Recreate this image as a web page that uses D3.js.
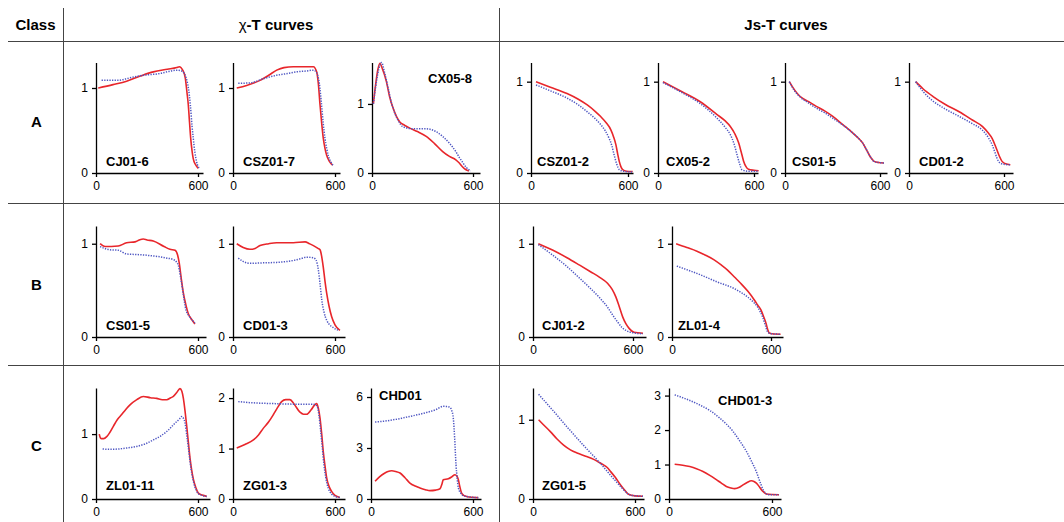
<!DOCTYPE html>
<html>
<head>
<meta charset="utf-8">
<script src="https://cdn.jsdelivr.net/npm/d3@7"></script>
<style>
  body { margin: 0; background: #fff; }
  svg { display: block; font-family: "Liberation Sans", Arial, Helvetica, sans-serif; }
</style>
</head>
<body>
<svg id="chart" width="1064" height="522"></svg>
<script>
// ---- data: [T (°C), normalised value] ----
const classes = ['A', 'B', 'C'];
const columnTitles = ['-T curves', 'Js-T curves'];
const xTicks = [0, 600];

// class A, chi-T
const cj01_6_red = [[13,1.0],[100,1.04],[180,1.08],[260,1.14],[337,1.19],[420,1.22],[475,1.24],[490,1.25],[510,1.21],[525,1.12],[535,0.95],[543,0.8],[550,0.6],[557,0.41],[565,0.26],[572,0.17],[585,0.1],[602,0.055]];
const cj01_6_blue = [[33,1.09],[80,1.09],[131,1.09],[200,1.12],[280,1.15],[376,1.17],[440,1.2],[475,1.21],[504,1.2],[530,1.12],[545,0.98],[555,0.8],[565,0.55],[572,0.41],[582,0.24],[592,0.13],[608,0.055]];
const csz01_7_red = [[22,1.0],[80,1.03],[159,1.09],[210,1.15],[257,1.21],[300,1.24],[355,1.25],[420,1.25],[473,1.25],[492,1.19],[502,1.05],[512,0.8],[522,0.58],[531,0.41],[541,0.29],[551,0.21],[566,0.14],[586,0.094]];
const csz01_7_blue = [[31,1.055],[100,1.06],[180,1.11],[257,1.15],[320,1.17],[374,1.19],[430,1.2],[473,1.21],[492,1.18],[508,1.05],[521,0.8],[531,0.58],[541,0.41],[551,0.29],[561,0.2],[575,0.13],[590,0.09]];
const cx05_8_red = [[8,1.0],[20,1.25],[35,1.5],[47,1.59],[60,1.52],[86,1.32],[105,1.1],[125,0.94],[145,0.82],[165,0.74],[195,0.69],[224,0.65],[270,0.6],[322,0.53],[370,0.43],[420,0.31],[460,0.24],[498,0.19],[520,0.14],[537,0.09],[556,0.05],[576,0.03]];
const cx05_8_blue = [[8,1.0],[20,1.22],[40,1.5],[57,1.6],[75,1.45],[96,1.23],[115,1.02],[135,0.87],[160,0.74],[184,0.67],[243,0.64],[322,0.64],[380,0.6],[420,0.53],[460,0.43],[498,0.31],[520,0.22],[537,0.16],[560,0.08],[586,0.03]];

// class A, Js-T
const csz01_2_red = [[31,1.0],[120,0.94],[223,0.87],[290,0.81],[348,0.745],[400,0.67],[431,0.618],[465,0.55],[494,0.473],[512,0.39],[525,0.31],[536,0.21],[546,0.127],[556,0.07],[567,0.036],[590,0.02],[629,0.017]];
const csz01_2_blue = [[31,0.964],[120,0.9],[223,0.82],[290,0.75],[348,0.67],[400,0.59],[431,0.53],[460,0.46],[483,0.38],[500,0.3],[514,0.2],[530,0.1],[546,0.036],[570,0.02],[629,0.01]];
const cx05_2_red = [[31,1.0],[150,0.89],[264,0.78],[369,0.64],[420,0.57],[452,0.51],[480,0.43],[504,0.33],[520,0.23],[535,0.13],[550,0.07],[566,0.04],[600,0.03],[629,0.025]];
const cx05_2_blue = [[31,0.99],[150,0.88],[264,0.76],[369,0.6],[420,0.5],[452,0.42],[475,0.32],[494,0.2],[510,0.1],[525,0.036],[560,0.02],[629,0.02]];
const cs01_5js_red = [[27,1.0],[60,0.91],[94,0.84],[150,0.78],[198,0.73],[250,0.68],[302,0.62],[365,0.53],[427,0.44],[470,0.37],[490,0.33],[510,0.27],[531,0.2],[550,0.15],[563,0.127],[590,0.115],[625,0.11]];
const cs01_5js_blue = [[27,1.0],[60,0.9],[94,0.835],[150,0.765],[198,0.71],[250,0.66],[302,0.6],[365,0.525],[427,0.44],[470,0.37],[490,0.33],[510,0.27],[531,0.2],[550,0.15],[563,0.125],[590,0.115],[625,0.11]];
const cd01_2_red = [[42,1.0],[90,0.92],[150,0.84],[230,0.75],[317,0.67],[400,0.58],[463,0.51],[500,0.44],[525,0.38],[547,0.29],[567,0.2],[588,0.127],[610,0.1],[640,0.09]];
const cd01_2_blue = [[42,1.0],[90,0.89],[150,0.79],[230,0.7],[317,0.62],[400,0.54],[463,0.47],[500,0.39],[525,0.31],[542,0.23],[556,0.16],[575,0.11],[600,0.095],[640,0.09]];

// class B, chi-T
const cs01_5_red = [[24,1.0],[53,0.97],[90,0.97],[131,0.975],[180,1.01],[230,1.02],[255,1.04],[278,1.05],[300,1.04],[337,1.03],[400,0.97],[435,0.94],[465,0.93],[480,0.88],[490,0.79],[502,0.62],[514,0.47],[528,0.35],[543,0.25],[562,0.19],[582,0.14]];
const cs01_5_blue = [[24,0.97],[50,0.95],[82,0.935],[131,0.93],[180,0.89],[230,0.885],[278,0.88],[330,0.87],[376,0.86],[420,0.845],[455,0.83],[475,0.8],[484,0.77],[497,0.65],[510,0.5],[520,0.38],[529,0.29],[550,0.22],[582,0.15]];
const cd01_3_red = [[22,1.0],[60,0.96],[100,0.94],[130,0.95],[159,0.98],[210,1.0],[257,1.01],[355,1.01],[424,1.02],[450,1.0],[473,0.98],[500,0.95],[512,0.935],[522,0.86],[531,0.75],[541,0.6],[551,0.47],[565,0.33],[580,0.22],[600,0.13],[629,0.07]];
const cd01_3_blue = [[31,0.845],[60,0.81],[100,0.79],[180,0.795],[257,0.8],[355,0.82],[400,0.84],[433,0.856],[470,0.85],[482,0.84],[495,0.79],[502,0.72],[512,0.57],[522,0.4],[535,0.27],[551,0.18],[590,0.1],[625,0.07]];

// class B, Js-T
const cj01_2_red = [[32,1.0],[120,0.93],[204,0.85],[280,0.77],[345,0.7],[400,0.64],[447,0.576],[475,0.51],[497,0.43],[515,0.34],[538,0.216],[558,0.14],[578,0.09],[606,0.05],[660,0.04]];
const cj01_2_blue = [[32,0.99],[120,0.875],[204,0.755],[280,0.63],[345,0.52],[400,0.42],[447,0.32],[480,0.23],[508,0.16],[535,0.1],[558,0.07],[600,0.045],[660,0.035]];
const zl01_4_red = [[25,1.0],[90,0.96],[151,0.92],[200,0.88],[253,0.83],[300,0.77],[335,0.72],[380,0.64],[416,0.576],[460,0.49],[498,0.4],[520,0.34],[539,0.29],[555,0.22],[570,0.145],[580,0.08],[590,0.043],[620,0.032],[658,0.03]];
const zl01_4_blue = [[29,0.76],[100,0.715],[172,0.667],[274,0.59],[376,0.52],[420,0.475],[458,0.43],[490,0.38],[519,0.32],[535,0.27],[549,0.216],[565,0.13],[580,0.054],[600,0.035],[658,0.03]];

// class C, chi-T
const zl01_11_red = [[19,1.0],[26,0.94],[33,0.93],[45,0.93],[63,0.96],[80,1.02],[102,1.12],[125,1.22],[151,1.3],[175,1.38],[200,1.45],[240,1.53],[278,1.58],[320,1.56],[357,1.55],[390,1.53],[416,1.53],[440,1.56],[455,1.58],[475,1.64],[494,1.7],[505,1.66],[514,1.55],[524,1.35],[533,1.14],[543,0.88],[553,0.63],[563,0.44],[573,0.3],[588,0.17],[602,0.09],[625,0.06],[651,0.04]];
const zl01_11_blue = [[39,0.77],[80,0.765],[130,0.77],[180,0.785],[239,0.81],[290,0.85],[337,0.91],[380,0.97],[416,1.04],[440,1.1],[465,1.17],[490,1.23],[504,1.27],[515,1.24],[524,1.17],[533,1.0],[543,0.8],[553,0.58],[563,0.4],[575,0.25],[590,0.13],[610,0.07],[651,0.04]];
const zg01_3_red = [[22,1.01],[70,1.08],[120,1.17],[150,1.27],[178,1.4],[210,1.53],[237,1.67],[260,1.8],[286,1.93],[310,1.97],[335,1.97],[360,1.88],[394,1.72],[415,1.68],[433,1.68],[460,1.77],[482,1.87],[492,1.89],[502,1.8],[512,1.6],[522,1.28],[531,0.94],[541,0.66],[551,0.42],[565,0.25],[580,0.15],[600,0.07],[629,0.03]];
const zg01_3_blue = [[31,1.93],[100,1.91],[159,1.9],[250,1.89],[355,1.88],[420,1.88],[473,1.88],[488,1.86],[496,1.83],[506,1.65],[516,1.34],[526,1.0],[535,0.68],[546,0.42],[560,0.22],[580,0.1],[600,0.05],[629,0.03]];
const chd01_red = [[24,1.04],[50,1.3],[82,1.53],[100,1.62],[122,1.66],[145,1.62],[171,1.53],[200,1.25],[229,0.94],[260,0.76],[288,0.65],[320,0.55],[347,0.49],[380,0.52],[406,0.6],[418,0.9],[425,1.13],[455,1.19],[475,1.3],[494,1.43],[505,1.35],[514,1.13],[522,0.75],[533,0.35],[548,0.2],[563,0.15],[600,0.1],[631,0.08]];
const chd01_blue = [[24,4.53],[80,4.58],[131,4.66],[180,4.75],[229,4.86],[280,4.97],[327,5.09],[380,5.25],[425,5.45],[450,5.44],[465,5.39],[475,5.2],[484,4.76],[492,3.6],[500,2.02],[507,1.2],[514,0.65],[528,0.35],[543,0.2],[580,0.12],[631,0.08]];

// class C, Js-T
const zg01_5_red = [[33,1.0],[60,0.94],[102,0.85],[140,0.76],[180,0.68],[220,0.62],[259,0.58],[310,0.54],[357,0.5],[390,0.46],[415,0.43],[435,0.4],[455,0.35],[485,0.27],[514,0.18],[540,0.11],[562,0.06],[600,0.04],[647,0.035]];
const zg01_5_blue = [[33,1.32],[120,1.11],[200,0.91],[300,0.67],[396,0.45],[460,0.29],[510,0.17],[540,0.1],[555,0.07],[580,0.045],[647,0.035]];
const chd01_3_red = [[33,1.01],[80,0.98],[121,0.94],[160,0.88],[198,0.8],[240,0.68],[276,0.56],[305,0.46],[334,0.365],[360,0.32],[383,0.3],[410,0.34],[431,0.41],[455,0.48],[480,0.53],[495,0.51],[509,0.46],[524,0.37],[538,0.27],[552,0.2],[567,0.145],[600,0.13],[641,0.125]];
const chd01_3_blue = [[33,3.02],[100,2.9],[178,2.73],[240,2.56],[295,2.35],[335,2.17],[373,1.96],[410,1.7],[451,1.38],[480,1.1],[509,0.79],[530,0.5],[548,0.27],[562,0.17],[577,0.125],[641,0.12]];

// panel layout: axis origin, top of y axis, px for 600 on x, x-axis length, label spot
const panels = [
  { name: 'CJ01-6',  red: cj01_6_red,  blue: cj01_6_blue,  x0: 96,  y0: 173, top: 62.5, yMax: 1.30, ticks: [0, 1], w600: 102, len: 107, lx: 106, ly: 166 },
  { name: 'CSZ01-7', red: csz01_7_red, blue: csz01_7_blue, x0: 233, y0: 173, top: 62.5, yMax: 1.30, ticks: [0, 1], w600: 102, len: 107, lx: 243, ly: 166 },
  { name: 'CX05-8',  red: cx05_8_red,  blue: cx05_8_blue,  x0: 372, y0: 173, top: 62.5, yMax: 1.60, ticks: [0, 1], w600: 101, len: 108, lx: 428, ly: 83 },
  { name: 'CSZ01-2', red: csz01_2_red, blue: csz01_2_blue, x0: 531, y0: 173, top: 62.5, yMax: 1.21, ticks: [0, 1], w600: 97,  len: 102, lx: 537, ly: 166 },
  { name: 'CX05-2',  red: cx05_2_red,  blue: cx05_2_blue,  x0: 658, y0: 173, top: 62.5, yMax: 1.21, ticks: [0, 1], w600: 96,  len: 100, lx: 666, ly: 166 },
  { name: 'CS01-5',  red: cs01_5js_red, blue: cs01_5js_blue, x0: 785, y0: 173, top: 62.5, yMax: 1.21, ticks: [0, 1], w600: 95, len: 102, lx: 792, ly: 166 },
  { name: 'CD01-2',  red: cd01_2_red,  blue: cd01_2_blue,  x0: 909, y0: 173, top: 62.5, yMax: 1.21, ticks: [0, 1], w600: 95,  len: 104, lx: 919, ly: 166 },

  { name: 'CS01-5',  red: cs01_5_red,  blue: cs01_5_blue,  x0: 96,  y0: 337, top: 226, yMax: 1.19, ticks: [0, 1], w600: 102, len: 110, lx: 106, ly: 330 },
  { name: 'CD01-3',  red: cd01_3_red,  blue: cd01_3_blue,  x0: 233, y0: 337, top: 226, yMax: 1.19, ticks: [0, 1], w600: 102, len: 112, lx: 243, ly: 330 },
  { name: 'CJ01-2',  red: cj01_2_red,  blue: cj01_2_blue,  x0: 533, y0: 337, top: 226, yMax: 1.19, ticks: [0, 1], w600: 100, len: 113, lx: 542, ly: 330 },
  { name: 'ZL01-4',  red: zl01_4_red,  blue: zl01_4_blue,  x0: 672, y0: 337, top: 226, yMax: 1.19, ticks: [0, 1], w600: 99,  len: 111, lx: 678, ly: 330 },

  { name: 'ZL01-11', red: zl01_11_red, blue: zl01_11_blue, x0: 96,  y0: 499, top: 388, yMax: 1.71, ticks: [0, 1], w600: 102, len: 114, lx: 106, ly: 490 },
  { name: 'ZG01-3',  red: zg01_3_red,  blue: zg01_3_blue,  x0: 233, y0: 499, top: 388, yMax: 2.2,  ticks: [0, 1, 2], w600: 102, len: 112, lx: 243, ly: 490 },
  { name: 'CHD01',   red: chd01_red,   blue: chd01_blue,   x0: 371, y0: 499, top: 388, yMax: 6.53, ticks: [0, 3, 6], w600: 102, len: 110, lx: 379, ly: 400 },
  { name: 'ZG01-5',  red: zg01_5_red,  blue: zg01_5_blue,  x0: 533, y0: 499, top: 388, yMax: 1.40, ticks: [0, 1], w600: 102, len: 111, lx: 542, ly: 490 },
  { name: 'CHD01-3', red: chd01_3_red, blue: chd01_3_blue, x0: 669, y0: 499, top: 388, yMax: 3.22, ticks: [0, 1, 2, 3], w600: 103, len: 112, lx: 718, ly: 405 }
];

const svg = d3.select('#chart');
svg.append('rect').attr('width', 1064).attr('height', 522).attr('fill', '#fff');

// table grid
const grid = svg.append('g').attr('stroke', '#444').attr('stroke-width', 1);
[41.5, 203.5, 365.5].forEach(y => {
  grid.append('line').attr('x1', 8).attr('x2', 1064).attr('y1', y).attr('y2', y);
});
[63.5, 499.5].forEach(x => {
  grid.append('line').attr('x1', x).attr('x2', x).attr('y1', 8).attr('y2', 522);
});

// headers
const header = svg.append('g').attr('font-weight', 'bold').attr('font-size', 15).attr('text-anchor', 'middle');
header.append('text').attr('x', 35.5).attr('y', 30).text('Class');
const chiTitle = header.append('text').attr('x', 276).attr('y', 30);
chiTitle.append('tspan').attr('font-weight', 'normal').text('χ');
chiTitle.append('tspan').text(columnTitles[0]);
header.append('text').attr('x', 786).attr('y', 30).text(columnTitles[1]);

const rowY = [127, 290, 451];
classes.forEach((c, i) => {
  header.append('text').attr('x', 36.5).attr('y', rowY[i]).text(c);
});

const line = (x, y) => d3.line().x(d => x(d[0])).y(d => y(d[1])).curve(d3.curveMonotoneX);

function drawPanel(p) {
  const x = d3.scaleLinear().domain([0, p.len * 600 / p.w600]).range([p.x0, p.x0 + p.len]);
  const y = d3.scaleLinear().domain([0, p.yMax]).range([p.y0, p.top]);
  const g = svg.append('g');

  const xa = g.append('g')
    .attr('transform', `translate(0,${p.y0})`)
    .call(d3.axisBottom(x).tickValues(xTicks).tickSize(4).tickSizeOuter(0).tickPadding(4));
  const ya = g.append('g')
    .attr('transform', `translate(${p.x0},0)`)
    .call(d3.axisLeft(y).tickValues(p.ticks).tickFormat(d3.format('d')).tickSize(4).tickSizeOuter(0).tickPadding(4));

  [xa, ya].forEach(a => {
    a.attr('font-family', null).attr('font-size', 12);
    a.selectAll('path, line').attr('stroke', '#000').attr('stroke-width', 1.3);
    a.selectAll('text').attr('fill', '#000');
  });

  g.append('path').datum(p.red)
    .attr('d', line(x, y))
    .attr('fill', 'none').attr('stroke', '#e8262b').attr('stroke-width', 1.6);
  g.append('path').datum(p.blue)
    .attr('d', line(x, y))
    .attr('fill', 'none').attr('stroke', '#4e56c2').attr('stroke-width', 1.5)
    .attr('stroke-dasharray', '1.3,1.3');

  g.append('text')
    .attr('x', p.lx).attr('y', p.ly)
    .attr('font-weight', 'bold').attr('font-size', 13)
    .text(p.name);
}

panels.forEach(drawPanel);
</script>
</body>
</html>
